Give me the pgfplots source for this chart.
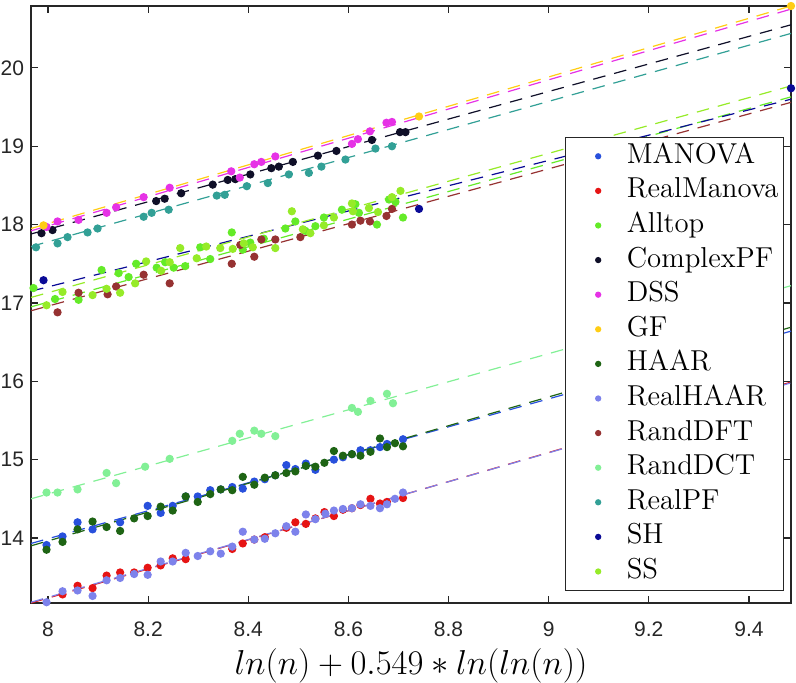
\documentclass[border=0pt]{standalone}
\usepackage{fontspec}
\usepackage{pgfplots}
\pgfplotsset{compat=1.18}
\newfontfamily\ticksf{Liberation Sans}
\definecolor{cMANOVA}{RGB}{40,80,220}
\definecolor{cRealManova}{RGB}{230,20,20}
\definecolor{cAlltop}{RGB}{100,235,40}
\definecolor{cComplexPF}{RGB}{15,15,40}
\definecolor{cDSS}{RGB}{230,50,230}
\definecolor{cGF}{RGB}{255,205,20}
\definecolor{cHAAR}{RGB}{30,100,20}
\definecolor{cRealHAAR}{RGB}{125,130,235}
\definecolor{cRandDFT}{RGB}{150,50,50}
\definecolor{cRandDCT}{RGB}{130,240,150}
\definecolor{cRealPF}{RGB}{50,160,150}
\definecolor{cSH}{RGB}{10,10,150}
\definecolor{cSS}{RGB}{150,235,40}
\definecolor{axgray}{RGB}{38,38,38}
\begin{document}
\begin{tikzpicture}
\begin{axis}[
  scale only axis,
  width=380pt, height=298.5pt,
  xmin=7.966, xmax=9.484, ymin=13.17, ymax=20.79,
  xtick={8,8.2,8.4,8.6,8.8,9,9.2,9.4},
  ytick={14,15,16,17,18,19,20},
  tick align=inside, tick pos=both,
  major tick length=3.5pt,
  axis line style={axgray, line width=0.6pt},
  tick style={axgray, line width=0.6pt},
  /pgf/number format/assume math mode=true,
  ticklabel style={font=\ticksf\fontsize{10.5}{12}\selectfont, text=axgray},
  xticklabel style={yshift=-6pt},
  xlabel={$ln(n)+0.549*ln(ln(n))$},
  xlabel style={font=\fontsize{16.5}{18}\selectfont, yshift=1pt},
  legend style={at={(axis description cs:0.9908,0.7806)}, anchor=north east,
     draw=axgray, line width=0.6pt, fill=white,
     font=\fontsize{14.4}{16}\selectfont,
     nodes={text height=10.3pt, text depth=3.2pt, inner ysep=1.9pt, inner xsep=0.5pt},
     inner xsep=2pt, inner ysep=0.7pt},
  legend cell align=left,
  legend image code/.code={\path (0pt,0pt) (27.5pt,0pt); \draw[#1, mark size=1.25pt] plot[only marks] coordinates {(14pt,0pt)};},
  every axis plot/.append style={line width=0.6pt},
]
% ---------- scatter series ----------
\addplot[only marks, mark=*, mark size=1.75pt, color=cMANOVA] coordinates {
(7.997,13.91) (8.029,14.02) (8.059,14.20) (8.089,14.11) (8.144,14.20) (8.199,14.41) (8.225,14.32) (8.249,14.41) (8.275,14.53) (8.299,14.53) (8.324,14.61) (8.345,14.62) (8.368,14.65) (8.389,14.63) (8.412,14.72) (8.433,14.75) (8.454,14.80) (8.476,14.93) (8.494,14.88) (8.515,14.95) (8.534,14.87) (8.571,15.00) (8.589,15.03) (8.607,15.07) (8.624,15.12) (8.644,15.12) (8.663,15.16) (8.677,15.20) (8.709,15.26)};
\addlegendentry{MANOVA}
\addplot[only marks, mark=*, mark size=1.75pt, color=cRealManova] coordinates {
(7.969,13.16) (8.029,13.28) (8.059,13.39) (8.089,13.36) (8.117,13.52) (8.144,13.56) (8.172,13.56) (8.199,13.62) (8.225,13.65) (8.249,13.74) (8.275,13.73) (8.368,13.86) (8.389,13.93) (8.412,13.98) (8.433,14.01) (8.476,14.13) (8.494,14.20) (8.515,14.18) (8.534,14.25) (8.552,14.33) (8.571,14.28) (8.589,14.36) (8.607,14.38) (8.624,14.42) (8.644,14.50) (8.663,14.44) (8.677,14.46) (8.709,14.51)};
\addlegendentry{RealManova}
\addplot[only marks, mark=*, mark size=1.75pt, color=cAlltop] coordinates {
(7.971,17.19) (8.014,17.05) (8.061,17.04) (8.107,17.42) (8.141,17.38) (8.161,17.33) (8.176,17.50) (8.217,17.45) (8.234,17.52) (8.251,17.45) (8.274,17.47) (8.304,17.71) (8.324,17.56) (8.367,17.90) (8.389,17.68) (8.404,17.77) (8.431,17.82) (8.474,17.95) (8.494,18.04) (8.514,17.92) (8.534,17.98) (8.551,18.09) (8.587,18.19) (8.614,18.26) (8.621,18.15) (8.657,18.00) (8.681,18.32) (8.694,18.29) (8.709,18.09)};
\addlegendentry{Alltop}
\addplot[only marks, mark=*, mark size=1.75pt, color=cComplexPF] coordinates {
(7.987,17.89) (8.009,17.93) (8.216,18.30) (8.233,18.33) (8.266,18.40) (8.329,18.51) (8.359,18.57) (8.374,18.58) (8.404,18.64) (8.446,18.72) (8.461,18.74) (8.489,18.80) (8.539,18.88) (8.576,18.94) (8.647,19.08) (8.703,19.18) (8.714,19.18)};
\addlegendentry{ComplexPF}
\addplot[only marks, mark=*, mark size=1.75pt, color=cDSS] coordinates {
(7.997,17.97) (8.019,18.04) (8.061,18.06) (8.117,18.15) (8.136,18.22) (8.191,18.35) (8.243,18.47) (8.366,18.68) (8.383,18.60) (8.412,18.77) (8.426,18.80) (8.454,18.87) (8.607,19.03) (8.619,19.09) (8.643,19.19) (8.676,19.30) (8.687,19.31)};
\addlegendentry{DSS}
\addplot[only marks, mark=*, mark size=1.75pt, color=cGF] coordinates {
(7.991,17.99) (8.741,19.38) (9.484,20.79)};
\addlegendentry{GF}
\addplot[only marks, mark=*, mark size=1.75pt, color=cHAAR] coordinates {
(7.997,13.85) (8.029,13.95) (8.059,14.11) (8.089,14.21) (8.117,14.14) (8.144,14.09) (8.172,14.25) (8.199,14.28) (8.225,14.40) (8.249,14.35) (8.275,14.53) (8.299,14.46) (8.324,14.56) (8.345,14.62) (8.368,14.61) (8.389,14.78) (8.412,14.68) (8.433,14.77) (8.454,14.80) (8.476,14.83) (8.494,14.85) (8.515,14.92) (8.534,14.91) (8.552,14.96) (8.571,15.11) (8.589,15.05) (8.607,15.07) (8.624,15.05) (8.644,15.10) (8.663,15.27) (8.677,15.16) (8.693,15.21) (8.709,15.17)};
\addlegendentry{HAAR}
\addplot[only marks, mark=*, mark size=1.75pt, color=cRealHAAR] coordinates {
(7.997,13.18) (8.029,13.32) (8.059,13.33) (8.089,13.26) (8.117,13.46) (8.144,13.49) (8.172,13.54) (8.199,13.53) (8.225,13.70) (8.249,13.70) (8.275,13.81) (8.299,13.77) (8.324,13.83) (8.345,13.80) (8.368,13.89) (8.389,14.08) (8.412,13.98) (8.433,13.99) (8.454,14.06) (8.476,14.15) (8.494,14.08) (8.515,14.30) (8.534,14.24) (8.554,14.31) (8.571,14.35) (8.589,14.37) (8.607,14.38) (8.624,14.43) (8.644,14.41) (8.663,14.38) (8.677,14.43) (8.693,14.50) (8.709,14.58)};
\addlegendentry{RealHAAR}
\addplot[only marks, mark=*, mark size=1.75pt, color=cRandDFT] coordinates {
(8.019,16.88) (8.061,17.13) (8.119,17.11) (8.136,17.21) (8.191,17.36) (8.243,17.25) (8.367,17.50) (8.384,17.74) (8.412,17.59) (8.426,17.81) (8.454,17.81) (8.504,17.84) (8.607,18.00) (8.624,18.05) (8.643,18.04) (8.676,18.11) (8.687,18.20)};
\addlegendentry{RandDFT}
\addplot[only marks, mark=*, mark size=1.75pt, color=cRandDCT] coordinates {
(7.997,14.58) (8.019,14.58) (8.059,14.62) (8.117,14.83) (8.136,14.70) (8.194,14.91) (8.243,15.01) (8.368,15.24) (8.383,15.33) (8.412,15.37) (8.426,15.33) (8.454,15.30) (8.607,15.66) (8.619,15.61) (8.644,15.75) (8.677,15.84) (8.689,15.72)};
\addlegendentry{RandDCT}
\addplot[only marks, mark=*, mark size=1.75pt, color=cRealPF] coordinates {
(7.976,17.71) (8.019,17.76) (8.039,17.84) (8.079,17.90) (8.099,17.95) (8.191,18.10) (8.207,18.15) (8.241,18.19) (8.337,18.37) (8.353,18.38) (8.397,18.49) (8.439,18.53) (8.481,18.64) (8.521,18.66) (8.546,18.74) (8.594,18.83) (8.654,18.97) (8.687,19.00)};
\addlegendentry{RealPF}
\addplot[only marks, mark=*, mark size=1.75pt, color=cSH] coordinates {
(7.991,17.29) (8.741,18.20) (9.484,19.74)};
\addlegendentry{SH}
\addplot[only marks, mark=*, mark size=1.75pt, color=cSS] coordinates {
(7.997,16.97) (8.029,17.14) (8.089,17.10) (8.117,17.18) (8.144,17.13) (8.174,17.25) (8.196,17.53) (8.226,17.41) (8.243,17.52) (8.264,17.70) (8.297,17.57) (8.316,17.72) (8.344,17.70) (8.369,17.69) (8.391,17.76) (8.409,17.71) (8.454,17.70) (8.487,18.17) (8.509,17.94) (8.524,17.89) (8.551,17.99) (8.571,18.09) (8.607,18.27) (8.609,18.17) (8.641,18.21) (8.659,18.16) (8.687,18.35) (8.704,18.43)};
\addlegendentry{SS}
% ---------- fitted lines ----------
\addplot[forget plot, cMANOVA, dash pattern=on 6.3pt off 4.5pt] coordinates {(7.966,13.93) (9.484,16.64)};
\addplot[forget plot, cRealManova, dash pattern=on 6.3pt off 4.5pt] coordinates {(7.966,13.17) (9.484,15.99)};
\addplot[forget plot, cAlltop, dash pattern=on 6.3pt off 4.5pt] coordinates {(7.966,16.95) (9.484,19.63)};
\addplot[forget plot, cComplexPF, dash pattern=on 6.3pt off 4.5pt] coordinates {(7.966,17.88) (9.484,20.55)};
\addplot[forget plot, cDSS, dash pattern=on 6.3pt off 4.5pt] coordinates {(7.966,17.92) (9.484,20.75)};
\addplot[forget plot, cGF, dash pattern=on 6.3pt off 4.5pt] coordinates {(7.966,17.95) (9.484,20.79)};
\addplot[forget plot, cHAAR, dash pattern=on 6.3pt off 4.5pt] coordinates {(7.966,13.90) (9.484,16.69)};
\addplot[forget plot, cRealHAAR, dash pattern=on 6.3pt off 4.5pt] coordinates {(7.966,13.18) (9.484,15.98)};
\addplot[forget plot, cRandDFT, dash pattern=on 6.3pt off 4.5pt] coordinates {(7.966,16.90) (9.484,19.56)};
\addplot[forget plot, cRandDCT, dash pattern=on 6.3pt off 4.5pt] coordinates {(7.966,14.50) (9.484,17.22)};
\addplot[forget plot, cRealPF, dash pattern=on 6.3pt off 4.5pt] coordinates {(7.966,17.72) (9.484,20.44)};
\addplot[forget plot, cSH, dash pattern=on 6.3pt off 4.5pt] coordinates {(7.966,17.15) (9.484,19.60)};
\addplot[forget plot, cSS, dash pattern=on 6.3pt off 4.5pt] coordinates {(7.966,17.07) (9.484,19.77)};
\end{axis}
\pgfresetboundingbox
\useasboundingbox (-15.5pt,-39.5pt) rectangle (382.5pt,301.5pt);
\end{tikzpicture}
\end{document}
